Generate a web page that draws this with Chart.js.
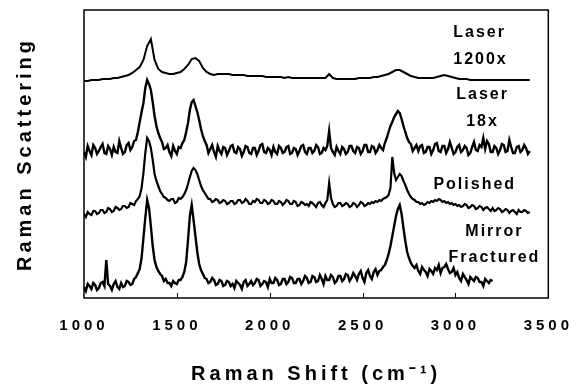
<!DOCTYPE html>
<html>
<head>
<meta charset="utf-8">
<script src="https://cdn.jsdelivr.net/npm/chart.js@4.4.1/dist/chart.umd.min.js"></script>
<style>
  body { margin: 0; background: #fff; }
  canvas { display: block; }
</style>
</head>
<body>
<canvas id="chart" width="584" height="386"></canvas>
<script>
// Raman shift positions (cm-1): coarse grid for the smooth trace
const shifts = [
  1000, 1020, 1040, 1060, 1080, 1100, 1120, 1140, 1160, 1180,
  1200, 1220, 1240, 1260, 1280, 1300, 1320, 1340, 1360, 1380,
  1400, 1420, 1440, 1460, 1480, 1500, 1520, 1540, 1560, 1580,
  1600, 1620, 1640, 1660, 1680, 1700, 1720, 1740, 1760, 1780,
  1800, 1820, 1840, 1860, 1880, 1900, 1920, 1940, 1960, 1980,
  2000, 2020, 2040, 2060, 2080, 2100, 2120, 2140, 2160, 2180,
  2200, 2220, 2240, 2260, 2280, 2300, 2320, 2340, 2360, 2380,
  2400, 2420, 2440, 2460, 2480, 2500, 2520, 2540, 2560, 2580,
  2600, 2620, 2640, 2660, 2680, 2700, 2720, 2740, 2760, 2780,
  2800, 2820, 2840, 2860, 2880, 2900, 2920, 2940, 2960, 2980,
  3000, 3020, 3040, 3060, 3080, 3100, 3120, 3140, 3160, 3180,
  3200, 3220, 3240, 3260, 3280, 3300, 3320, 3340, 3360, 3380,
  3400
];

// fine grid for the noisy traces
const fineShifts = [
  1000, 1010, 1020, 1030, 1040, 1050, 1060, 1070, 1080, 1090, 1100, 1110, 1120, 1130, 1140, 1150, 1160, 1170, 1180, 1190,
  1200, 1210, 1220, 1230, 1240, 1250, 1260, 1270, 1280, 1290, 1300, 1310, 1320, 1330, 1340, 1350, 1360, 1370, 1380, 1390,
  1400, 1410, 1420, 1430, 1440, 1450, 1460, 1470, 1480, 1490, 1500, 1510, 1520, 1530, 1540, 1550, 1560, 1570, 1580, 1590,
  1600, 1610, 1620, 1630, 1640, 1650, 1660, 1670, 1680, 1690, 1700, 1710, 1720, 1730, 1740, 1750, 1760, 1770, 1780, 1790,
  1800, 1810, 1820, 1830, 1840, 1850, 1860, 1870, 1880, 1890, 1900, 1910, 1920, 1930, 1940, 1950, 1960, 1970, 1980, 1990,
  2000, 2010, 2020, 2030, 2040, 2050, 2060, 2070, 2080, 2090, 2100, 2110, 2120, 2130, 2140, 2150, 2160, 2170, 2180, 2190,
  2200, 2210, 2220, 2230, 2240, 2250, 2260, 2270, 2280, 2290, 2300, 2310, 2320, 2330, 2340, 2350, 2360, 2370, 2380, 2390,
  2400, 2410, 2420, 2430, 2440, 2450, 2460, 2470, 2480, 2490, 2500, 2510, 2520, 2530, 2540, 2550, 2560, 2570, 2580, 2590,
  2600, 2610, 2620, 2630, 2640, 2650, 2660, 2670, 2680, 2690, 2700, 2710, 2720, 2730, 2740, 2750, 2760, 2770, 2780, 2790,
  2800, 2810, 2820, 2830, 2840, 2850, 2860, 2870, 2880, 2890, 2900, 2910, 2920, 2930, 2940, 2950, 2960, 2970, 2980, 2990,
  3000, 3010, 3020, 3030, 3040, 3050, 3060, 3070, 3080, 3090, 3100, 3110, 3120, 3130, 3140, 3150, 3160, 3170, 3180, 3190,
  3200, 3210, 3220, 3230, 3240, 3250, 3260, 3270, 3280, 3290, 3300, 3310, 3320, 3330, 3340, 3350, 3360, 3370, 3380, 3390,
  3400
];

// stacked spectra, arbitrary intensity (offset already included)
const laser1200 = [
  217, 217, 218, 218, 218, 219, 219, 219, 220, 220,
  221, 222, 223, 225, 228, 231, 238, 252, 259, 238,
  229, 226, 225, 224, 224, 225, 226, 229, 233, 239,
  240, 237, 230, 226, 224, 223, 224, 224, 224, 224,
  223, 223, 223, 223, 222, 222, 222, 222, 222, 221,
  221, 221, 221, 221, 220, 221, 220, 220, 220, 220,
  220, 220, 220, 220, 220, 220, 224, 220, 219, 219,
  219, 219, 219, 219, 220, 220, 220, 220, 221, 221,
  222, 223, 224, 226, 228, 228, 226, 224, 222, 221,
  220, 220, 220, 220, 220, 221, 222, 223, 222, 221,
  220, 219, 219, 219, 218, 218, 218, 218, 218, 218,
  218, 218, 218, 218, 218, 218, 218, 218, 218, 218,
  218
];

const laser18 = [
  146, 141, 152, 147, 143, 153, 150, 144, 147, 151, 154, 145, 144, 152, 149, 143, 151, 146, 145, 157,
  150, 144, 146, 153, 155, 148, 151, 157, 158, 166, 176, 186, 195, 210, 218, 214, 208, 196, 182, 172,
  165, 160, 156, 149, 150, 153, 146, 142, 152, 147, 144, 151, 150, 155, 158, 166, 175, 188, 196, 198,
  192, 186, 178, 169, 162, 157, 153, 145, 149, 153, 146, 141, 152, 147, 144, 151, 150, 143, 147, 152,
  153, 146, 145, 151, 149, 142, 146, 152, 151, 145, 144, 150, 150, 143, 147, 153, 154, 146, 145, 150,
  148, 143, 151, 146, 144, 152, 150, 145, 146, 151, 152, 144, 145, 150, 149, 143, 147, 152, 153, 146,
  144, 150, 150, 145, 147, 153, 151, 144, 145, 150, 148, 152, 167, 150, 146, 143, 151, 147, 144, 151,
  149, 144, 146, 152, 152, 147, 145, 151, 150, 144, 147, 153, 153, 146, 146, 152, 151, 145, 148, 153,
  150, 148, 155, 160, 166, 172, 176, 181, 184, 187, 185, 179, 172, 166, 160, 156, 154, 147, 150, 153,
  147, 152, 153, 145, 146, 151, 151, 144, 148, 154, 155, 147, 146, 152, 152, 145, 149, 156, 150, 144,
  146, 151, 153, 146, 148, 152, 150, 143, 145, 151, 156, 148, 147, 153, 151, 160, 149, 157, 154, 146,
  146, 152, 150, 144, 148, 154, 153, 146, 147, 158, 151, 145, 145, 151, 152, 146, 148, 153, 150, 144,
  147
];

const polished = [
  84, 81, 86, 84, 83, 87, 87, 84, 85, 88, 88, 85, 86, 90, 89, 86, 87, 91, 90, 88,
  89, 92, 92, 90, 91, 95, 94, 93, 97, 99, 102, 110, 125, 145, 160, 157, 150, 138, 124, 117,
  112, 107, 104, 101, 100, 98, 97, 99, 99, 95, 96, 100, 99, 101, 104, 108, 114, 121, 127, 130,
  128, 124, 118, 112, 108, 105, 102, 99, 99, 96, 97, 99, 98, 95, 96, 98, 97, 94, 95, 97,
  97, 94, 95, 98, 98, 95, 96, 99, 97, 94, 94, 97, 96, 99, 98, 95, 95, 98, 97, 94,
  95, 98, 97, 94, 94, 97, 96, 93, 95, 98, 97, 94, 94, 97, 96, 92, 93, 96, 95, 93,
  94, 92, 96, 95, 93, 91, 95, 96, 93, 91, 95, 98, 115, 100, 94, 91, 92, 95, 95, 92,
  93, 95, 94, 91, 92, 95, 94, 91, 93, 96, 95, 92, 93, 95, 94, 96, 95, 97, 96, 98,
  97, 99, 100, 101, 103, 110, 141, 125, 118, 121, 124, 122, 117, 113, 108, 104, 101, 99, 98, 96,
  96, 94, 95, 93, 94, 96, 95, 97, 96, 98, 97, 99, 98, 96, 97, 95, 96, 94, 95, 93,
  94, 92, 93, 91, 92, 94, 93, 90, 91, 93, 92, 89, 90, 92, 91, 88, 90, 91, 89, 87,
  90, 87, 88, 90, 89, 86, 87, 89, 88, 85, 87, 88, 86, 84, 88, 86, 86, 88, 87, 85,
  86
];

const mirrorFractured = [
  11, 7, 14, 12, 9, 15, 13, 8, 10, 15, 16, 12, 38, 14, 12, 8, 14, 17, 11, 9,
  15, 11, 12, 17, 16, 13, 14, 19, 21, 25, 29, 40, 60, 80, 98, 90, 72, 52, 38, 31,
  27, 24, 22, 17, 19, 15, 15, 12, 17, 15, 14, 18, 18, 21, 26, 36, 58, 82, 93, 78,
  62, 46, 34, 28, 24, 20, 19, 15, 16, 20, 18, 13, 14, 18, 17, 12, 13, 17, 16, 12,
  14, 10, 17, 15, 13, 9, 16, 18, 12, 14, 17, 13, 15, 19, 18, 12, 14, 17, 16, 11,
  19, 15, 15, 20, 18, 13, 14, 19, 19, 14, 16, 21, 20, 15, 15, 19, 19, 14, 17, 22,
  20, 15, 16, 22, 21, 16, 17, 23, 19, 14, 22, 18, 18, 23, 21, 15, 17, 22, 22, 17,
  19, 24, 23, 17, 20, 25, 22, 18, 24, 27, 20, 16, 25, 28, 22, 19, 26, 29, 23, 27,
  28, 31, 33, 38, 44, 52, 62, 72, 82, 89, 93, 84, 70, 57, 46, 40, 35, 32, 30, 33,
  27, 24, 31, 28, 26, 22, 29, 27, 24, 30, 28, 33, 25, 30, 31, 34, 29, 25, 26, 30,
  23, 26, 20, 17, 24, 21, 18, 14, 21, 19, 17, 21, 20, 16, 16, 12, 19, 17, 15, 18,
  17, null, null, null, null, null, null, null, null, null, null, null, null, null, null, null, null, null, null, null,
  null
];

const xTicks = [1000, 1500, 2000, 2500, 3000, 3500];

// curve names, placed at [shift, intensity]
const curveNames = [
  ["Laser", 3130, 265],
  ["1200x", 3135, 238],
  ["Laser", 3146, 203],
  ["18x", 3146, 176],
  ["Polished", 3104, 113],
  ["Mirror", 3210, 66],
  ["Fractured", 3210, 40],
];

const FONT = '"Liberation Sans", Arial, sans-serif';

function spectrum(xs, vals, width) {
  return {
    data: xs.map((x, i) => ({x, y: vals[i]})),
    borderColor: "#000",
    borderWidth: width,
    pointRadius: 0,
    tension: 0,
    fill: false,
    spanGaps: false,
  };
}

const framePlugin = {
  id: "frame",
  beforeDraw(chart) {
    chart.ctx.letterSpacing = "4px";
  },
  afterDraw(chart) {
    const {ctx, chartArea: a, scales} = chart;
    ctx.save();
    ctx.letterSpacing = "0px";
    ctx.strokeStyle = "#000";
    ctx.lineWidth = 1.5;
    ctx.strokeRect(a.left, a.top, a.right - a.left, a.bottom - a.top);

    // small inward tick marks
    ctx.lineWidth = 1;
    xTicks.slice(1, -1).forEach(v => {
      const px = Math.round(scales.x.getPixelForValue(v)) + 0.5;
      ctx.beginPath();
      ctx.moveTo(px, a.bottom);
      ctx.lineTo(px, a.bottom - 5);
      ctx.stroke();
    });

    ctx.fillStyle = "#000";
    ctx.font = "bold 16px " + FONT;
    ctx.letterSpacing = "2px";
    ctx.textAlign = "center";
    ctx.textBaseline = "middle";
    curveNames.forEach(([txt, w, v]) => {
      ctx.fillText(txt, scales.x.getPixelForValue(w), scales.y.getPixelForValue(v));
    });
    ctx.restore();
  },
};

new Chart(document.getElementById("chart"), {
  type: "line",
  data: {
    datasets: [
      spectrum(shifts, laser1200, 2),
      spectrum(fineShifts, laser18, 2.4),
      spectrum(fineShifts, polished, 2.2),
      spectrum(fineShifts, mirrorFractured, 2.4),
    ],
  },
  options: {
    responsive: false,
    animation: false,
    events: [],
    layout: {padding: {top: 10, right: 27, left: 0, bottom: 0}},
    plugins: {legend: {display: false}, tooltip: {enabled: false}},
    scales: {
      x: {
        type: "linear",
        min: 1000,
        max: 3500,
        afterFit(scale) { scale.height = 88; },
        afterBuildTicks(scale) { scale.ticks = xTicks.map(value => ({value})); },
        grid: {display: false, drawTicks: false},
        border: {display: false},
        ticks: {
          color: "#000",
          padding: 19,
          maxRotation: 0,
          callback: v => String(v),
          font: {family: FONT, size: 15, weight: "bold"},
        },
        title: {
          display: true,
          text: "Raman Shift (cm⁻¹)",
          color: "#000",
          padding: {top: 0, bottom: 0},
          font: {family: FONT, size: 20, weight: "bold"},
        },
      },
      y: {
        min: 0,
        max: 288,
        afterFit(scale) { scale.width = 84; },
        grid: {display: false, drawTicks: false},
        border: {display: false},
        ticks: {display: false},
        title: {
          display: true,
          text: "Raman Scattering",
          color: "#000",
          padding: {top: 13, bottom: 0},
          font: {family: FONT, size: 20, weight: "bold"},
        },
      },
    },
  },
  plugins: [framePlugin],
});
</script>
</body>
</html>
